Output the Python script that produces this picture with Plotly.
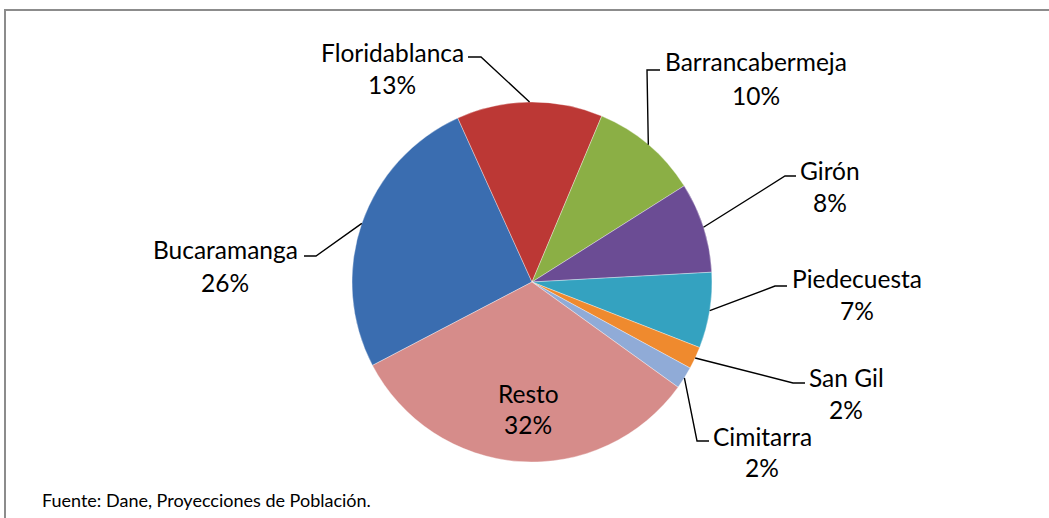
import math
import plotly.graph_objects as go

# ---- data ----
municipios = ["Bucaramanga", "Floridablanca", "Barrancabermeja", "Girón",
              "Piedecuesta", "San Gil", "Cimitarra", "Resto"]
participacion = [25.9, 13.1, 9.7, 8.1, 6.8, 2.0, 2.0, 32.4]
colores = ["#3A6DB0", "#BC3835", "#8BAF45", "#6B4C94",
           "#34A2C0", "#EF8A2E", "#90ABD7", "#D68C8A"]
fuente = "Fuente: Dane, Proyecciones de Población."

# ---- layout constants (pixels) ----
W, H = 1049, 518
CX, CY, R = 532, 282, 180
ROTATION = 242.4
FONT = "Lato, Calibri, 'Open Sans', sans-serif"
FS = 24.5

# label positions: (text center x, name y, pct y, elbow x, elbow y, line-end x)
label_pos = {
    "Bucaramanga":     (225, 250, 282, 316, 256, 304),
    "Floridablanca":   (392, 52, 84, 481, 57, 468),
    "Barrancabermeja": (756, 62, 96, 647, 70, 660),
    "Girón":           (830, 170, 202, 785, 176, 796),
    "Piedecuesta":     (857, 278, 310, 775, 286, 787),
    "San Gil":         (846, 377, 409, 793, 383, 805),
    "Cimitarra":       (762, 436, 467, 697, 441, 709),
}
resto_pos = (528, 393, 424)


def px(x):
    return x / W


def py(y):
    return 1 - y / H


fig = go.Figure()
fig.add_trace(go.Pie(
    labels=municipios,
    values=participacion,
    sort=False,
    direction="clockwise",
    rotation=ROTATION,
    textinfo="none",
    hoverinfo="label+percent",
    marker=dict(colors=colores, line=dict(color="rgba(255,255,255,0.35)", width=1)),
    domain=dict(x=[px(CX - R), px(CX + R)], y=[py(CY + R), py(CY - R)]),
    showlegend=False,
))

total = sum(participacion)
annotations = []
shapes = []
cum = 0.0
for name, v in zip(municipios, participacion):
    pct = v / total * 100
    mid = ROTATION + (cum + v / 2) / total * 360
    cum += v
    ex = CX + R * math.sin(math.radians(mid))
    ey = CY - R * math.cos(math.radians(mid))
    if name == "Resto":
        tx, ny, pyy = resto_pos
    else:
        tx, ny, pyy, elx, ely, lx = label_pos[name]
        path = f"M {px(ex)} {py(ey)} L {px(elx)} {py(ely)} L {px(lx)} {py(ely)}"
        shapes.append(dict(type="path", xref="paper", yref="paper", path=path,
                           line=dict(color="black", width=1.4)))
    annotations.append(dict(x=px(tx), y=py(ny), xref="paper", yref="paper",
                            text=name, showarrow=False, xanchor="center", yanchor="middle",
                            font=dict(family=FONT, size=FS, color="black")))
    annotations.append(dict(x=px(tx), y=py(pyy), xref="paper", yref="paper",
                            text=f"{round(pct)}%", showarrow=False, xanchor="center",
                            yanchor="middle",
                            font=dict(family=FONT, size=FS, color="black")))

annotations.append(dict(x=px(40), y=py(500), xref="paper", yref="paper", text=fuente,
                        showarrow=False, xanchor="left", yanchor="middle",
                        font=dict(family=FONT, size=18, color="black")))

# chart border
shapes.append(dict(type="rect", xref="paper", yref="paper",
                   x0=px(5), x1=px(1060), y0=py(540), y1=py(10),
                   line=dict(color="#8C8C8C", width=2), fillcolor="rgba(0,0,0,0)",
                   layer="below"))

fig.update_layout(
    width=W, height=H,
    margin=dict(l=0, r=0, t=0, b=0),
    paper_bgcolor="white", plot_bgcolor="white",
    annotations=annotations, shapes=shapes,
)

fig.write_html(
    "out.html",
    config={"displayModeBar": False},
    post_script="document.body.style.margin='0';document.body.style.overflow='hidden';",
)
